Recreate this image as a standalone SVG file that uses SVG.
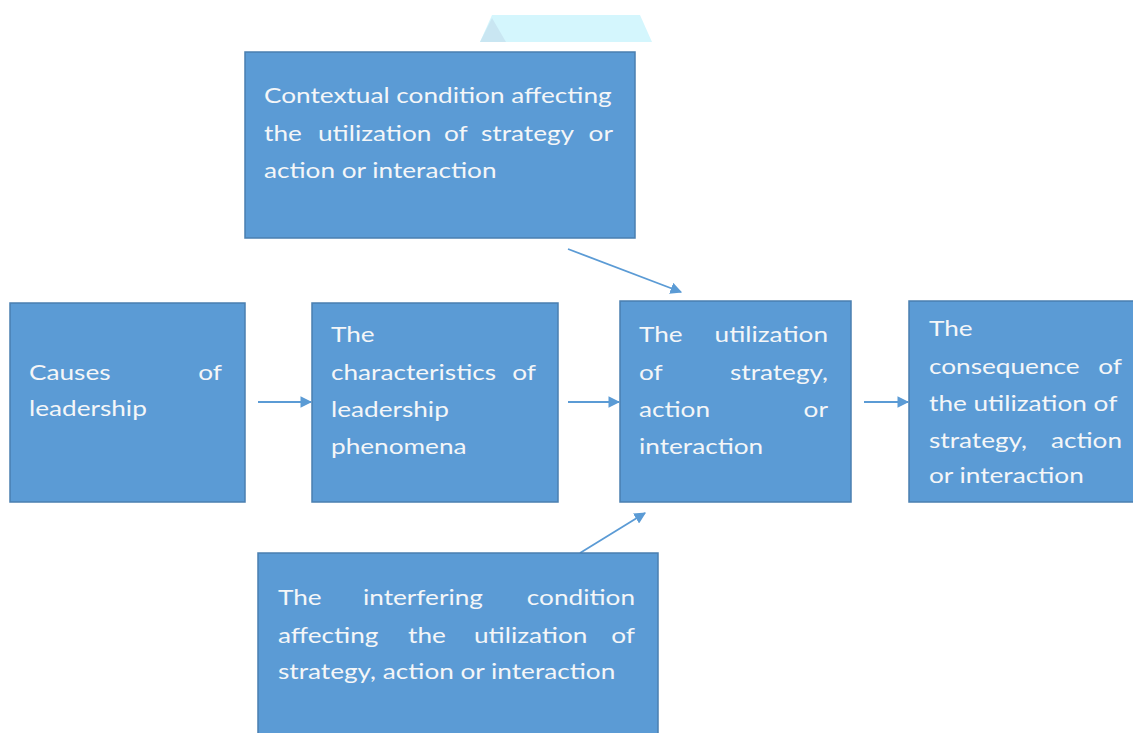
<svg xmlns="http://www.w3.org/2000/svg" width="1133" height="733" viewBox="0 0 1133 733">
<style>
.box{fill:#5b9bd5;stroke:#4a7fb0;stroke-width:1.5}
.t{font-family:Lato,"Open Sans","Liberation Sans",sans-serif;font-size:22px;fill:#f4f6f8}
.e{text-anchor:end}
.c{stroke:#5b9bd5;stroke-width:1.8;fill:none}
</style>
<defs>
<marker id="ah" viewBox="0 0 10 10" refX="9" refY="5" markerWidth="6.5" markerHeight="6.5" orient="auto" markerUnits="strokeWidth">
<path d="M0,0 L10,5 L0,10 z" fill="#5b9bd5"/>
</marker>
</defs>
<rect width="1133" height="733" fill="#ffffff"/>
<polygon points="480,42 492,15 640,15 652,42" fill="#d4f6fd"/>
<polygon points="480,42 492,18 506,42" fill="#c9e6f2"/>
<g id="connectors">
<line class="c" x1="258" y1="402" x2="311" y2="402" marker-end="url(#ah)"/>
<line class="c" x1="568" y1="402" x2="619" y2="402" marker-end="url(#ah)"/>
<line class="c" x1="864" y1="402" x2="908" y2="402" marker-end="url(#ah)"/>
<line class="c" x1="568" y1="249" x2="681" y2="292" marker-end="url(#ah)"/>
<line class="c" x1="580" y1="553" x2="645" y2="513" marker-end="url(#ah)"/>
</g>
<g id="contextual">
<rect class="box" x="245" y="52" width="390" height="186"/>
<text class="t" transform="matrix(1.19 0 0 1 264 103)">Contextual condition affecting</text>
<text class="t" transform="matrix(1.19 0 0 1 264 141)">the</text>
<text class="t" transform="matrix(1.19 0 0 1 318 141)">utilization</text>
<text class="t" transform="matrix(1.19 0 0 1 444 141)">of</text>
<text class="t" transform="matrix(1.19 0 0 1 481 141)">strategy</text>
<text class="t e" transform="matrix(1.19 0 0 1 613 141)">or</text>
<text class="t" transform="matrix(1.19 0 0 1 264 178)">action or interaction</text>
</g>
<g id="causes">
<rect class="box" x="10" y="303" width="235" height="199"/>
<text class="t" transform="matrix(1.19 0 0 1 29 380)">Causes</text>
<text class="t e" transform="matrix(1.19 0 0 1 222 380)">of</text>
<text class="t" transform="matrix(1.19 0 0 1 29 416)">leadership</text>
</g>
<g id="characteristics">
<rect class="box" x="312" y="303" width="246" height="199"/>
<text class="t" transform="matrix(1.19 0 0 1 331 342)">The</text>
<text class="t" transform="matrix(1.19 0 0 1 331 380)">characteristics</text>
<text class="t e" transform="matrix(1.19 0 0 1 536 380)">of</text>
<text class="t" transform="matrix(1.19 0 0 1 331 417)">leadership</text>
<text class="t" transform="matrix(1.19 0 0 1 331 454)">phenomena</text>
</g>
<g id="utilization">
<rect class="box" x="620" y="301" width="231" height="201"/>
<text class="t" transform="matrix(1.19 0 0 1 639 342)">The</text>
<text class="t e" transform="matrix(1.19 0 0 1 828 342)">utilization</text>
<text class="t" transform="matrix(1.19 0 0 1 639 380)">of</text>
<text class="t e" transform="matrix(1.19 0 0 1 828 380)">strategy,</text>
<text class="t" transform="matrix(1.19 0 0 1 639 417)">action</text>
<text class="t e" transform="matrix(1.19 0 0 1 828 417)">or</text>
<text class="t" transform="matrix(1.19 0 0 1 639 454)">interaction</text>
</g>
<g id="consequence">
<rect class="box" x="909" y="301" width="230" height="201"/>
<text class="t" transform="matrix(1.19 0 0 1 929 336)">The</text>
<text class="t" transform="matrix(1.19 0 0 1 929 374)">consequence</text>
<text class="t e" transform="matrix(1.19 0 0 1 1122 374)">of</text>
<text class="t" transform="matrix(1.19 0 0 1 929 411)">the utilization of</text>
<text class="t" transform="matrix(1.19 0 0 1 929 448)">strategy,</text>
<text class="t e" transform="matrix(1.19 0 0 1 1122 448)">action</text>
<text class="t" transform="matrix(1.19 0 0 1 929 483)">or interaction</text>
</g>
<g id="interfering">
<rect class="box" x="258" y="553" width="400" height="190"/>
<text class="t" transform="matrix(1.19 0 0 1 278 605)">The</text>
<text class="t" transform="matrix(1.19 0 0 1 363 605)">interfering</text>
<text class="t e" transform="matrix(1.19 0 0 1 635 605)">condition</text>
<text class="t" transform="matrix(1.19 0 0 1 278 643)">affecting</text>
<text class="t" transform="matrix(1.19 0 0 1 408 643)">the</text>
<text class="t" transform="matrix(1.19 0 0 1 474 643)">utilization</text>
<text class="t e" transform="matrix(1.19 0 0 1 635 643)">of</text>
<text class="t" transform="matrix(1.19 0 0 1 278 679)">strategy, action or interaction</text>
</g>
</svg>
